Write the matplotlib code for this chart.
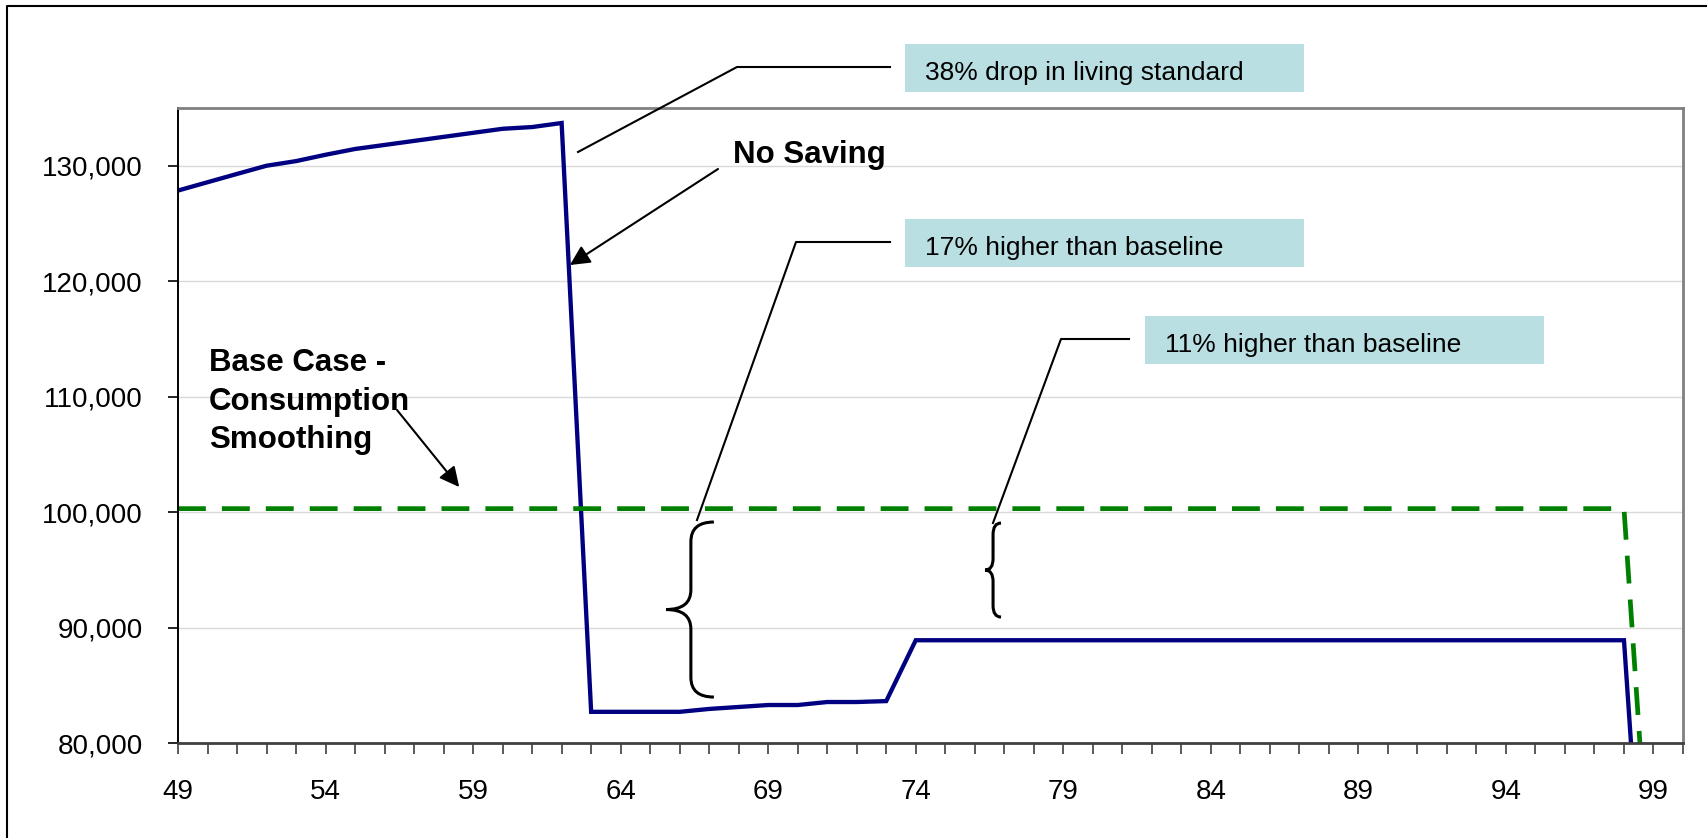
import matplotlib
matplotlib.use('Agg')
import matplotlib.pyplot as plt
import matplotlib.transforms as mtransforms
from matplotlib.lines import Line2D
from matplotlib.patches import PathPatch, Rectangle
from matplotlib.path import Path
from matplotlib.ticker import FuncFormatter

plt.rcParams['font.family'] = ['Liberation Sans', 'DejaVu Sans']

# consumption by age, 49 to 99
ages = list(range(49, 100))
no_saving = [127850, 128570, 129290, 130000, 130400, 130950, 131450, 131800,
             132150, 132500, 132850, 133200, 133350, 133700,            # 49-62
             82700, 82700, 82700, 82700, 82950, 83120, 83290, 83290,
             83550, 83550, 83630,                                       # 63-73
             88900, 88900, 88900, 88900, 88900, 88900, 88900, 88900,
             88900, 88900, 88900, 88900, 88900, 88900, 88900, 88900,
             88900, 88900, 88900, 88900, 88900, 88900, 88900, 88900,
             88900,                                                     # 74-98
             51500]                                                     # 99
base_case = [100300] * 50 + [62700]

y_ticks = [80000, 90000, 100000, 110000, 120000, 130000]
x_labels = [49, 54, 59, 64, 69, 74, 79, 84, 89, 94, 99]

W, H = 1707, 838
fig = plt.figure(figsize=(W / 100, H / 100), dpi=100)
ax = fig.add_axes([178 / W, 1 - 743 / H, 1505 / W, 635 / H])

# pixel coordinates from the top-left corner, for the callouts
px = mtransforms.Affine2D().scale(1 / W, -1 / H).translate(0, 1) + fig.transFigure

ax.plot(ages, no_saving, color='#000080', lw=3.1, solid_joinstyle='miter')
ax.plot(ages, base_case, color='#008000', lw=3.4, linestyle=(0, (5.9, 3.4)))

ax.set_xlim(49, 100)
ax.set_ylim(80000, 135000)
ax.set_yticks(y_ticks)
ax.yaxis.set_major_formatter(FuncFormatter(lambda v, p: f'{v:,.0f}'))
ax.set_xticks(range(49, 101))
ax.set_xticklabels([str(a) if a in x_labels else '' for a in range(49, 101)])

ax.yaxis.grid(True, color='#D9D9D9', lw=1)
ax.set_axisbelow(True)
ax.tick_params(axis='y', length=7.2, width=1.2, pad=18, labelsize=20, color='black')
ax.tick_params(axis='x', length=8, width=1.2, pad=18, labelsize=20, color='#404040')
ax.spines['left'].set_color('black')
ax.spines['left'].set_linewidth(1.4)
ax.spines['bottom'].set_color('#404040')
ax.spines['bottom'].set_linewidth(2)
for s in ('top', 'right'):
    ax.spines[s].set_color('#808080')
    ax.spines[s].set_linewidth(2)

# outer chart border
fig.add_artist(Line2D([7, 7, 1707], [845, 6, 6], transform=px, color='black', lw=1.5))


def brace(x_spine, y_lo, y_hi, tip, end, r):
    ym = (y_lo + y_hi) / 2
    verts = [(end, y_hi), (x_spine, y_hi), (x_spine, y_hi - r),
             (x_spine, ym + r), (x_spine, ym), (tip, ym),
             (x_spine, ym), (x_spine, ym - r),
             (x_spine, y_lo + r), (x_spine, y_lo), (end, y_lo)]
    codes = [Path.MOVETO, Path.CURVE3, Path.CURVE3, Path.LINETO,
             Path.CURVE3, Path.CURVE3, Path.CURVE3, Path.CURVE3,
             Path.LINETO, Path.CURVE3, Path.CURVE3]
    ax.add_patch(PathPatch(Path(verts, codes), fill=False, lw=2.2,
                           edgecolor='black', clip_on=False))


brace(66.38, 83980, 99140, 65.54, 67.16, 1700)
brace(76.62, 90910, 99050, 76.35, 76.89, 1000)

# callout boxes with leader lines
callouts = [
    ('38% drop in living standard', (905, 44), [(578, 152), (737, 67), (890, 67)]),
    ('17% higher than baseline', (905, 219), [(697, 520), (796, 242), (890, 242)]),
    ('11% higher than baseline', (1145, 316), [(993, 523), (1061, 339), (1129, 339)]),
]
for label, (bx, by), leader in callouts:
    fig.add_artist(Rectangle((bx, by + 48), 399, -48, transform=px,
                             facecolor='#B9DFE2', edgecolor='none'))
    fig.text(bx + 20, by + 36, label, transform=px, fontsize=19,
             va='baseline', ha='left')
    xs, ys = zip(*leader)
    fig.add_artist(Line2D(xs, ys, transform=px, color='black', lw=1.5))

arrow = dict(arrowstyle='-|>', color='black', lw=1.5, mutation_scale=30,
             shrinkA=0, shrinkB=0)
fig.text(733, 163, 'No Saving', transform=px, fontsize=22.5, fontweight='bold',
         va='baseline', ha='left')
ax.annotate('', xy=(62.28, 121400), xytext=(718, 169), textcoords=px,
            arrowprops=arrow, annotation_clip=False)

# baseline given for the last line of the block
fig.text(209, 448, 'Base Case -\nConsumption\nSmoothing', transform=px,
         fontsize=22.5, fontweight='bold', va='baseline', ha='left',
         linespacing=1.36)
ax.annotate('', xy=(58.53, 102170), xytext=(397, 410), textcoords=px,
            arrowprops=arrow, annotation_clip=False)

fig.savefig('out.png', dpi=100)
